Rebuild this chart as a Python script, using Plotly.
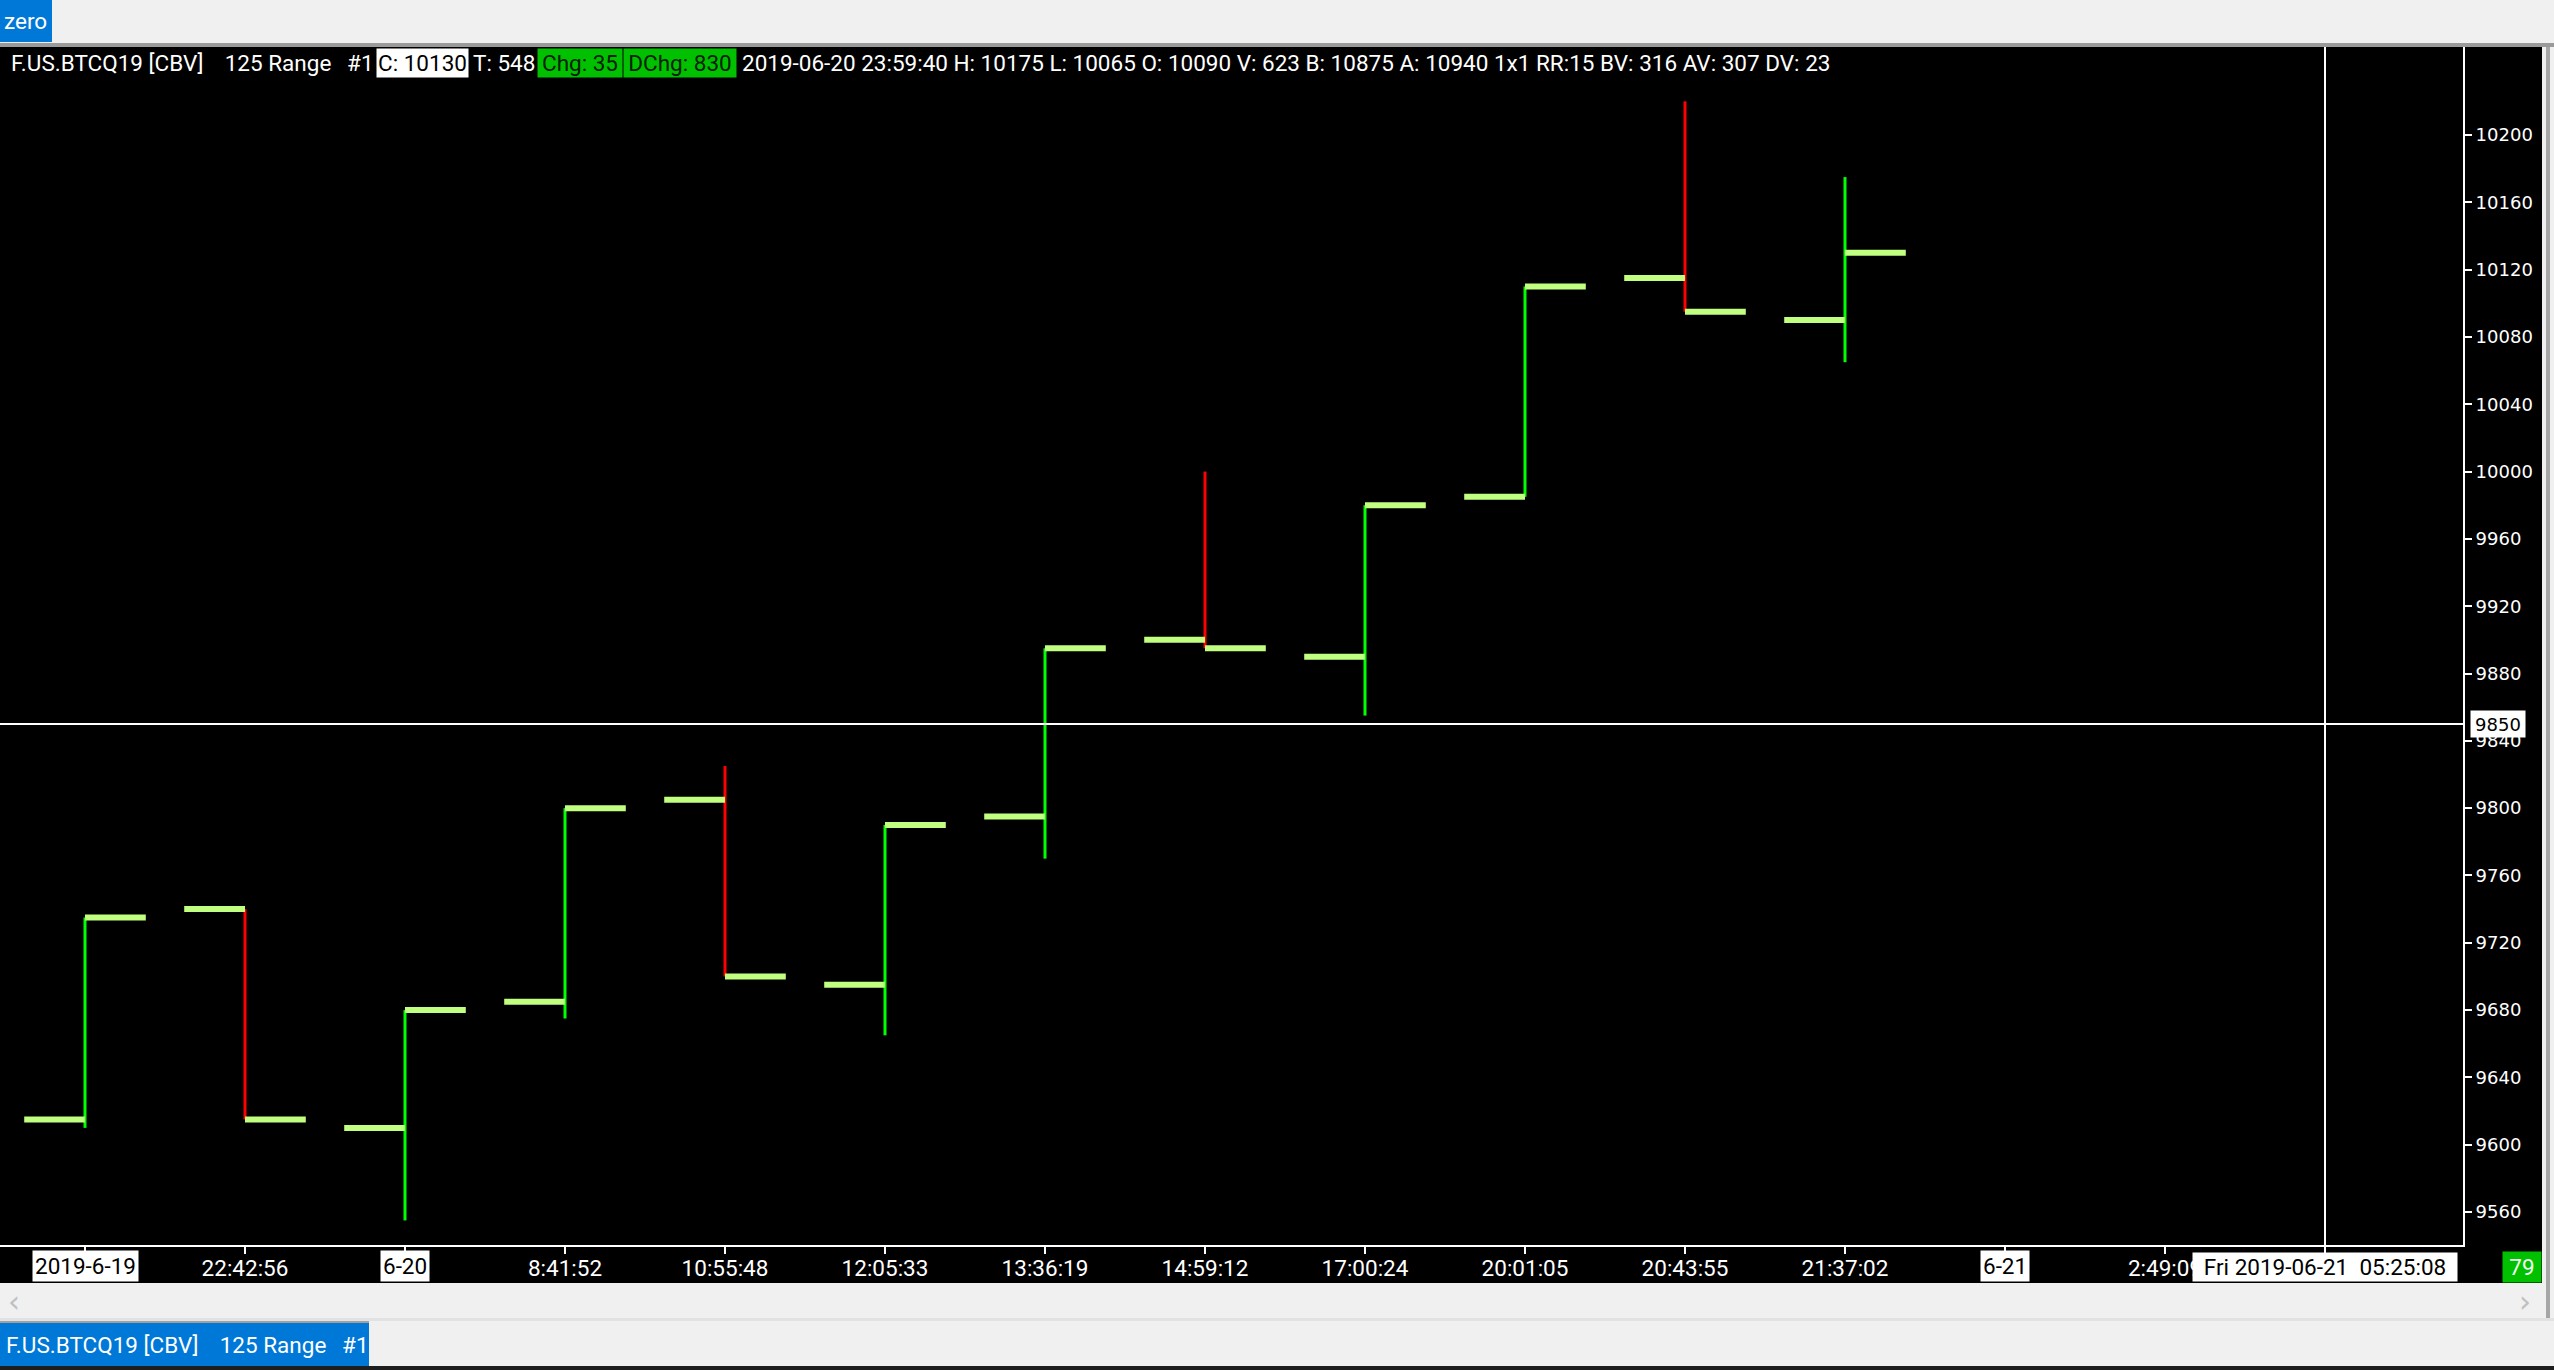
import plotly.graph_objects as go

# ---------------- data ----------------
tick_labels = ["2019-6-19", "22:42:56", "6-20", "8:41:52", "10:55:48", "12:05:33",
               "13:36:19", "14:59:12", "17:00:24", "20:01:05", "20:43:55", "21:37:02",
               "6-21", "2:49:09", ""]
date_ticks = {0: "2019-6-19", 2: "6-20", 12: "6-21"}

bar_open = [9615, 9740, 9610, 9685, 9805, 9695, 9795, 9900, 9890, 9985, 10115, 10090]
bar_high = [9735, 9740, 9680, 9800, 9825, 9790, 9895, 10000, 9980, 10110, 10220, 10175]
bar_low = [9610, 9615, 9555, 9675, 9700, 9665, 9770, 9895, 9855, 9985, 10095, 10065]
bar_close = [9735, 9615, 9680, 9800, 9700, 9790, 9895, 9895, 9980, 10110, 10095, 10130]

price_ticks = list(range(9560, 10201, 40))
crosshair_price = 9850
crosshair_index = 14
crosshair_label = "Fri 2019-06-21\u00a0\u00a005:25:08"
counter_label = "79"

GAP1 = "\u00a0\u00a0\u00a0\u2009"
GAP2 = "\u00a0\u00a0\u2009"
header_segments = [
    ("F.US.BTCQ19 [CBV]" + GAP1 + "125 Range" + GAP2 + "#1", None),
    ("C: 10130", "white"),
    ("T: 548", None),
    ("Chg: 35", "green"),
    ("DChg: 830", "green"),
    ("2019-06-20 23:59:40 H: 10175 L: 10065 O: 10090 V: 623 B: 10875 A: 10940 "
     "1x1 RR:15 BV: 316 AV: 307 DV: 23", None),
]
tab_label = "F.US.BTCQ19 [CBV]" + GAP1 + "125 Range" + GAP2 + "#1"

# ---------------- geometry / style ----------------
W, H = 2554, 1370
PL, PR, PT, PB = 0, 2463, 47, 1245


def px(x):
    return (x - PL) / (PR - PL)


def py(y):
    return (PB - y) / (PB - PT)


UI = "Roboto, 'Noto Sans', sans-serif"
AX = "'DejaVu Sans', Verdana, sans-serif"
FS = 22.5
TICK_GREEN = "#c0ff80"
UP = "#00ff00"
DOWN = "#ff0000"
BOX_GREEN = "#00c000"
BLUE = "#0078d7"

fig = go.Figure()

half = 0.38
n = len(bar_open)
ox, oy, cx, cy = [], [], [], []
ux, uy, dx, dy = [], [], [], []
for i in range(n):
    ox += [i - half, i, None]
    oy += [bar_open[i], bar_open[i], None]
    cx += [i, i + half, None]
    cy += [bar_close[i], bar_close[i], None]
    if bar_close[i] >= bar_open[i]:
        ux += [i, i, None]
        uy += [bar_low[i], bar_high[i], None]
    else:
        dx += [i, i, None]
        dy += [bar_low[i], bar_high[i], None]

common = dict(mode="lines", hoverinfo="skip", showlegend=False)
fig.add_trace(go.Scatter(x=ux, y=uy, line=dict(color=UP, width=3), **common))
fig.add_trace(go.Scatter(x=dx, y=dy, line=dict(color=DOWN, width=3), **common))
fig.add_trace(go.Scatter(x=ox, y=oy, line=dict(color=TICK_GREEN, width=6), **common))
fig.add_trace(go.Scatter(x=cx, y=cy, line=dict(color=TICK_GREEN, width=6), **common))

shapes = []


def rect(x0, y0, x1, y1, color, layer="below"):
    shapes.append(dict(type="rect", xref="paper", yref="paper",
                       x0=px(x0), x1=px(x1), y0=py(y1), y1=py(y0),
                       fillcolor=color, line=dict(width=0), layer=layer))


# black chart body
rect(0, 47, 2542, 1283, "black")
# top separator line
rect(0, 43, W, 47, "#9a9a9a")
# zero tab
rect(0, 0, 52, 42, BLUE)
# right scrollbar line
rect(2546, 47, 2550, 1318, "#a6a6a6")
# bottom separator and tab
rect(0, 1318, W, 1321, "#e2e2e2")
rect(0, 1321, 369, 1323, "#a0a0a0")
rect(0, 1323, 369, 1366, BLUE)
rect(0, 1366, W, H, "#1e1e1e")

# crosshair
shapes.append(dict(type="line", xref="x", yref="paper", x0=crosshair_index, x1=crosshair_index,
                   y0=0, y1=1, line=dict(color="white", width=2), layer="above"))
shapes.append(dict(type="line", xref="paper", yref="y", x0=0, x1=1,
                   y0=crosshair_price, y1=crosshair_price,
                   line=dict(color="white", width=2), layer="above"))

ann = []
# header
seg_x = [10, 376, 472, 537, 623, 741]
seg_w = [None, 91, None, 84, 112, None]
for (txt, bg), x0, w in zip(header_segments, seg_x, seg_w):
    a = dict(xref="paper", yref="paper", x=px(x0), y=py(63), xanchor="left",
             yanchor="middle", text=txt, showarrow=False,
             font=dict(family=UI, size=FS, color="white"), borderpad=0)
    if bg == "white":
        a.update(bgcolor="white", font=dict(family=UI, size=FS, color="black"),
                 width=w, height=28, align="center")
    elif bg == "green":
        a.update(bgcolor=BOX_GREEN, font=dict(family=UI, size=FS, color="#002000"),
                 width=w, height=28, align="center")
    ann.append(a)

# date boxes on x axis
for i, txt in date_ticks.items():
    ann.append(dict(xref="x", yref="paper", x=i, y=py(1266), xanchor="center", yanchor="middle",
                    text=txt, showarrow=False, bgcolor="white", borderpad=2,
                    font=dict(family=UI, size=FS, color="black")))
# crosshair time box
ann.append(dict(xref="paper", yref="paper", x=px(2192), y=py(1267), xanchor="left",
                yanchor="middle", text=crosshair_label, showarrow=False, bgcolor="white",
                width=264, height=28, borderpad=0, align="center",
                font=dict(family=UI, size=FS, color="black")))
# counter box
ann.append(dict(xref="paper", yref="paper", x=px(2502), y=py(1267), xanchor="left",
                yanchor="middle", text=counter_label, showarrow=False, bgcolor=BOX_GREEN,
                width=38, height=30, borderpad=0, align="center",
                font=dict(family=UI, size=FS, color="#f0fff0")))
# crosshair price box
ann.append(dict(xref="paper", yref="y", x=px(2470), y=crosshair_price, xanchor="left",
                yanchor="middle", text=str(crosshair_price), showarrow=False, bgcolor="white",
                width=54, height=26, borderpad=0, align="center",
                font=dict(family=AX, size=18, color="black")))
# zero tab text
ann.append(dict(xref="paper", yref="paper", x=px(25), y=py(21), xanchor="center",
                yanchor="middle", text="zero", showarrow=False,
                font=dict(family=UI, size=FS, color="white")))
# bottom tab text
ann.append(dict(xref="paper", yref="paper", x=px(4), y=py(1345), xanchor="left",
                yanchor="middle", text=tab_label, showarrow=False,
                font=dict(family=UI, size=FS, color="white")))
# scroll chevrons
ann.append(dict(xref="paper", yref="paper", x=px(14), y=py(1301), xanchor="center",
                yanchor="middle", text="\u2039", showarrow=False,
                font=dict(family=AX, size=30, color="#c0c0c0")))
ann.append(dict(xref="paper", yref="paper", x=px(2525), y=py(1301), xanchor="center",
                yanchor="middle", text="\u203a", showarrow=False,
                font=dict(family=AX, size=30, color="#c0c0c0")))

xt = [lab if i not in date_ticks else "" for i, lab in enumerate(tick_labels)]

fig.update_layout(
    width=W, height=H,
    margin=dict(l=PL, r=W - PR, t=PT, b=H - PB, pad=0),
    paper_bgcolor="#f0f0f0",
    plot_bgcolor="black",
    showlegend=False,
    shapes=shapes,
    annotations=ann,
    xaxis=dict(range=[-0.53125, 14.8625], tickmode="array",
               tickvals=list(range(len(tick_labels))), ticktext=xt,
               showgrid=False, zeroline=False, showline=True, linecolor="white", linewidth=2,
               ticks="outside", ticklen=7, tickwidth=2, tickcolor="white",
               ticklabelstandoff=-5,
               tickfont=dict(family=UI, size=FS, color="white"), fixedrange=True),
    yaxis=dict(range=[9540.4, 10252.3], side="right", tickmode="array",
               tickvals=price_ticks, ticktext=[str(v) for v in price_ticks],
               showgrid=False, zeroline=False, showline=True, linecolor="white", linewidth=2,
               ticks="outside", ticklen=7, tickwidth=2, tickcolor="white",
               tickfont=dict(family=AX, size=18, color="white"), fixedrange=True),
)

fig.write_html("out.html", config={"displayModeBar": False},
               post_script="document.body.style.margin='0';document.body.style.overflow='hidden';")
